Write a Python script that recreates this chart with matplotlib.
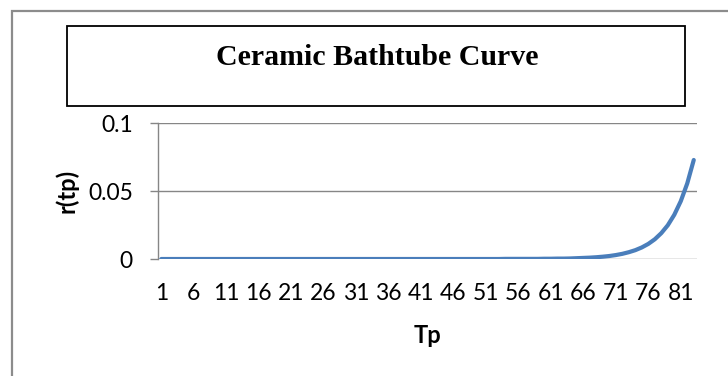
import matplotlib
matplotlib.use("Agg")
import matplotlib.pyplot as plt
from matplotlib.patches import Rectangle

# Tp categories and hazard rate r(tp)
tp = list(range(1, 84))
r_tp = [
    0.0000, 0.0000, 0.0000, 0.0000, 0.0000, 0.0000, 0.0000, 0.0000, 0.0000, 0.0000,
    0.0000, 0.0000, 0.0000, 0.0000, 0.0000, 0.0000, 0.0000, 0.0000, 0.0000, 0.0000,
    0.0000, 0.0000, 0.0000, 0.0000, 0.0000, 0.0000, 0.0000, 0.0000, 0.0000, 0.0000,
    0.0000, 0.0000, 0.0000, 0.0000, 0.0000, 0.0000, 0.0000, 0.0000, 0.0000, 0.0000,
    0.0000, 0.0000, 0.0000, 0.0000, 0.0000, 0.0000, 0.0000, 0.0000, 0.0000, 0.0000,
    0.0000, 0.0000, 0.0000, 0.0001, 0.0001, 0.0001, 0.0001, 0.0001, 0.0001, 0.0002,
    0.0002, 0.0003, 0.0003, 0.0004, 0.0006, 0.0008, 0.0010, 0.0013, 0.0017, 0.0022,
    0.0029, 0.0038, 0.0050, 0.0065, 0.0085, 0.0111, 0.0145, 0.0190, 0.0248, 0.0325,
    0.0425, 0.0556, 0.0728,
]
tick_labels = [str(t) for t in tp[::5]]
y_ticks = [0, 0.05, 0.1]
y_tick_labels = ["0", "0.05", "0.1"]

W, H = 728, 376
fig = plt.figure(figsize=(W / 100, H / 100), dpi=100)
fig.patch.set_facecolor("white")

# outer chart frame (runs off the right and bottom edge)
fig.add_artist(Rectangle((12 / W, -0.2), 1.2, 1.2 - 11 / H, transform=fig.transFigure,
                         fill=False, edgecolor="#8c8c8c", linewidth=1.6))

# title box
fig.add_artist(Rectangle((67 / W, 1 - 106 / H), 618 / W, 80 / H, transform=fig.transFigure,
                         fill=False, edgecolor="black", linewidth=1.3))
fig.text(377 / W, 1 - 65 / H, "Ceramic Bathtube Curve", ha="center", va="baseline",
         fontsize=21.5, fontweight="bold", family="Liberation Serif")

ax = fig.add_axes([158 / W, 1 - 259 / H, 539 / W, 136 / H])
ax.plot(tp, r_tp, color="#4a7ebb", linewidth=3.0, solid_capstyle="round", zorder=3)

ax.set_xlim(0.5, 83.5)
ax.set_ylim(0, 0.1)
ax.set_xticks(tp[::5])
ax.set_xticklabels(tick_labels)
ax.set_yticks(y_ticks)
ax.set_yticklabels(y_tick_labels)

for v in y_ticks:
    ax.axhline(v, color="#868686", linewidth=1.0, zorder=1)

for side in ["top", "right", "bottom"]:
    ax.spines[side].set_visible(False)
ax.spines["left"].set_color("#868686")
ax.spines["left"].set_linewidth(1.0)

ax.tick_params(axis="y", length=6, width=1.0, color="#868686", pad=12,
               labelsize=16.5)
ax.tick_params(axis="x", length=0, pad=17, labelsize=16.5)
for lab in ax.get_xticklabels() + ax.get_yticklabels():
    lab.set_family("Lato")

ax.set_xlabel("Tp", fontsize=17, fontweight="bold", family="Lato", labelpad=15)
ax.set_ylabel("r(tp)", fontsize=17, fontweight="bold", family="Lato", labelpad=7)

fig.savefig("out.png", dpi=100)
